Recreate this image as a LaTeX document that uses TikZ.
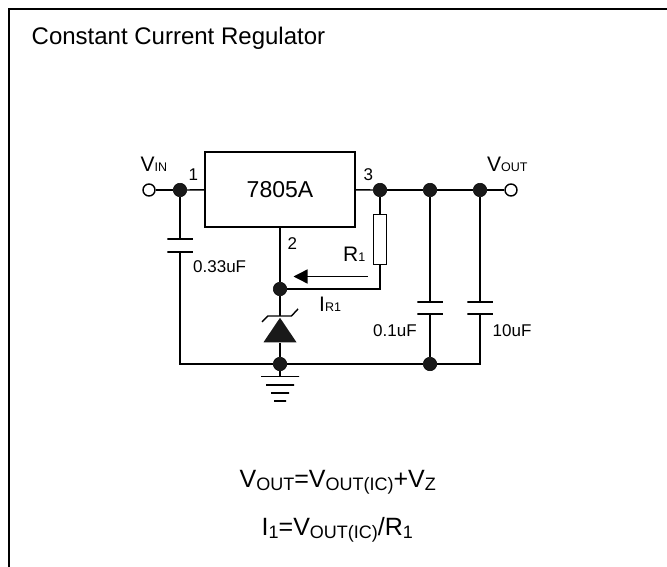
\documentclass[tikz,border=0pt]{standalone}
\usepackage{fontspec}
\setmainfont{Liberation Sans}
\usetikzlibrary{arrows.meta}
\usetikzlibrary{positioning}
\usetikzlibrary{shapes.geometric}
\newcommand{\smalltxt}[1]{{\fontsize{12.5}{12.5}\selectfont #1}}
\newcommand{\lowtxt}[1]{\raisebox{-3.3pt}{\fontsize{18}{18}\selectfont #1}}

\begin{document}
\begin{tikzpicture}[x=1pt,y=-1pt,>={Triangle[length=14pt,width=14pt]},
  line width=1.4pt,on grid,font=\fontsize{17}{19}\selectfont]

  \tikzstyle{dot}=[circle,fill=black!90,draw=black,line width=.5pt,minimum size=13.5pt,inner sep=0pt];
  \tikzstyle{port}=[circle,draw,fill=white,minimum size=12pt,inner sep=0pt];
  \tikzstyle{plate}=[rectangle,draw,minimum width=25.5pt,minimum height=0pt,inner sep=0pt];
  \tikzstyle{regbox}=[rectangle,draw,minimum width=150pt,minimum height=75pt,inner sep=0pt];
  \tikzstyle{resbox}=[rectangle,draw,minimum width=12.5pt,minimum height=50pt,inner sep=0pt];
  \tikzstyle{zener}=[isosceles triangle,isosceles triangle stretches,shape border rotate=90,
    fill=black!90,minimum height=24.5pt,minimum width=33pt,inner sep=0pt];
  \tikzstyle{label}=[inner sep=0pt,anchor=base west];
  \tikzstyle{big}=[font=\fontsize{21}{23}\selectfont];
  \tikzstyle{huge}=[font=\fontsize{25}{28}\selectfont];

  \useasboundingbox (0,0) rectangle (667,567);
  \draw[line width=2pt] (667,9.5) -- (8.5,9.5) -- (8.5,567);

  \node[label] (title) at (31,45) {\fontsize{24}{26}\selectfont Constant Current Regulator};

  \node[dot]  (in)    at (180,190) {};
  \node[port] (vin)   [left=31pt of in] {};
  \node[regbox] (reg) at (280,189.5) {\fontsize{23}{25}\selectfont 7805A};
  \node[dot]  (out1)  [right=200pt of in] {};
  \node[dot]  (out2)  [right=50pt of out1] {};
  \node[dot]  (out3)  [right=50pt of out2] {};
  \node[port] (vout)  [right=31pt of out3] {};

  \node[plate] (c1a)  [below=49pt of in] {};
  \node[plate] (c1b)  [below=13pt of c1a] {};
  \node[plate] (c2a)  [below=112pt of out2] {};
  \node[plate] (c2b)  [below=12pt of c2a] {};
  \node[plate] (c3a)  [below=112pt of out3] {};
  \node[plate] (c3b)  [below=12pt of c3a] {};

  \node[resbox] (r1)  [below=49.5pt of out1] {};
  \node[dot]  (adj)   at (280,289) {};
  \node[zener] (zd)   [below=44.5pt of adj] {};
  \node[dot]  (gnd)   at (280,364) {};
  \node[dot]  (gnd2)  [right=150pt of gnd] {};
  \coordinate (corner) at (out3 |- gnd);
  \coordinate (left)   at (in |- gnd);

  \node[plate,minimum width=38pt] (g1) [below=12.5pt of gnd] {};
  \node[plate,minimum width=28pt] (g2) [below=8.5pt of g1] {};
  \node[plate,minimum width=18pt] (g3) [below=8pt of g2] {};
  \node[plate,minimum width=12pt] (g4) [below=8pt of g3] {};

  \coordinate (arrowstart) at (367.5,276.5);
  \coordinate (arrowend)   at (293.5,276.5);

  \draw (vin) -- (in);
  \draw (in) -- (reg);
  \draw (reg) -- (out1);
  \draw (out1) -- (out2);
  \draw (out2) -- (out3);
  \draw (out3) -- (vout);
  \draw (in) -- (c1a);
  \draw (c1b) -- (left) -- (gnd);
  \draw (gnd) -- (gnd2);
  \draw (gnd2) -- (corner) -- (c3b);
  \draw (c3a) -- (out3);
  \draw (c2a) -- (out2);
  \draw (c2b) -- (gnd2);
  \draw (out1) -- (r1);
  \draw (r1) -- (r1 |- adj) -- (adj);
  \draw (reg) -- (adj);
  \draw (adj) -- (zd.apex);
  \draw (zd) -- (gnd);
  \draw (gnd) -- (g1);
  \draw[->] (arrowstart) -- (arrowend);

  % zener bar
  \draw (zd.apex) ++(-18,6) -- ++(6,-6) -- ++(23.5,0) -- ++(6.5,-7);

  \node[label,big] (vinl)  at (140,171.7) {V\smalltxt{IN}};
  \node[label,big] (voutl) at (486.5,171.7) {V\smalltxt{OUT}};
  \node[label] (pin1)  at (188,180.7) {1};
  \node[label] (pin2)  at (287,249) {2};
  \node[label] (pin3)  at (363,180.7) {3};
  \node[label,big] (r1l)   at (342.5,261.7) {R\smalltxt{1}};
  \node[label,big] (ir1l)  at (318.5,311.7) {I\smalltxt{R1}};
  \node[label] (c1l) at (192.5,272.7) {0.33uF};
  \node[label] (c2l) at (372.5,336) {0.1uF};
  \node[label] (c3l) at (492,336) {10uF};

  \node[label,huge] (eq1) at (239,487.3) {V\lowtxt{OUT}=V\lowtxt{OUT(IC)}+V\lowtxt{Z}};
  \node[label,huge] (eq2) at (261,535) {I\lowtxt{1}=V\lowtxt{OUT(IC)}/R\lowtxt{1}};
\end{tikzpicture}
\end{document}
